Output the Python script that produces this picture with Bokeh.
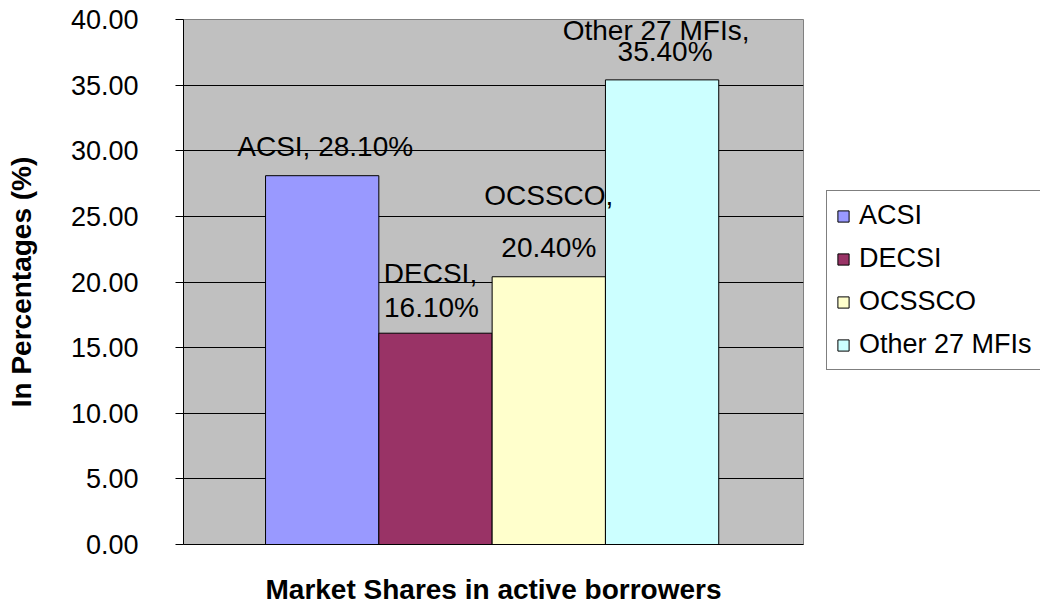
from bokeh.plotting import figure
from bokeh.layouts import row
from bokeh.models import (ColumnDataSource, Legend, LegendItem, NumeralTickFormatter,
                          FixedTicker, Range1d)
from bokeh.core.properties import value
from bokeh.embed import file_html
from bokeh.resources import INLINE

# ---- data ----
companies = ["ACSI", "DECSI", "OCSSCO", "Other 27 MFIs"]
shares = [28.10, 16.10, 20.40, 35.40]
y_ticks = [0, 5, 10, 15, 20, 25, 30, 35, 40]
x_title = "Market Shares in active borrowers"
y_title = "In Percentages (%)"

# ---- styles ----
colors = ["#9999FF", "#993366", "#FFFFCC", "#CCFFFF"]
# data labels: which labels break after the comma, and pixel offsets above the bar top
wrap = [False, True, True, True]
line1_dy = [0, -60, -81, -49]
line2_dy = [-29, -26, -29, -28]
line1_dx = [0, -5, 0, -6]
line2_dx = [3, -4, 0, 3]

FONT = "Liberation Sans"
FS_TICK = "27px"
FS_LAB = "28px"
FS_TITLE = "28px"
FS_LEG = "27px"

idx = list(range(len(companies)))
line1 = [f"{c}," if w else "" for c, w in zip(companies, wrap)]
line2 = [f"{v:.2f}%" if w else f"{c}, {v:.2f}%" for c, v, w in zip(companies, shares, wrap)]

src = ColumnDataSource(dict(x=idx, share=shares, color=colors, company=companies,
                            l1=line1, l2=line2, dy1=line1_dy, dy2=line2_dy,
                            dx1=line1_dx, dx2=line2_dx))

p = figure(width=820, height=607, output_backend="svg", toolbar_location=None,
           x_range=Range1d(-1.224, 4.248), y_range=Range1d(0, 40),
           min_border_left=183, min_border_right=17, min_border_top=19,
           min_border_bottom=62)

p.border_fill_color = "white"
p.background_fill_color = "#C0C0C0"
p.outline_line_color = "#808080"
p.outline_line_width = 1

bars = p.vbar(x="x", top="share", width=1.0, bottom=0, source=src,
              fill_color="color", line_color="black", line_width=1)

# grid
p.xgrid.visible = False
p.ygrid.grid_line_color = "black"
p.ygrid.grid_line_width = 1
p.ygrid.ticker = FixedTicker(ticks=y_ticks)
p.ygrid.level = "underlay"

# y axis
ya = p.yaxis[0]
ya.ticker = FixedTicker(ticks=y_ticks)
ya.formatter = NumeralTickFormatter(format="0.00")
ya.major_label_text_font = FONT
ya.major_label_text_font_size = FS_TICK
ya.major_label_text_color = "black"
ya.major_tick_out = 8
ya.major_tick_in = 0
ya.minor_tick_out = 0
ya.minor_tick_in = 0
ya.major_label_standoff = 37
ya.axis_line_color = "black"
ya.major_tick_line_color = "black"
ya.axis_label = y_title
ya.axis_label_text_font = FONT
ya.axis_label_text_font_size = FS_TITLE
ya.axis_label_text_font_style = "bold"
ya.axis_label_text_color = "black"
ya.axis_label_standoff = 31

# x axis
xa = p.xaxis[0]
xa.ticker = FixedTicker(ticks=[])
xa.major_tick_out = 0
xa.major_tick_in = 0
xa.minor_tick_out = 0
xa.minor_tick_in = 0
xa.major_label_text_font_size = "0px"
xa.axis_line_color = "black"
xa.axis_label = x_title
xa.axis_label_text_font = FONT
xa.axis_label_text_font_size = FS_TITLE
xa.axis_label_text_font_style = "bold"
xa.axis_label_text_color = "black"
xa.axis_label_standoff = 29

# data labels
p.text(x="x", y="share", text="l1", source=src, x_offset="dx1", y_offset="dy1",
       text_font=value(FONT), text_font_size=FS_LAB, text_align="center",
       text_baseline="alphabetic", text_color="black")
p.text(x="x", y="share", text="l2", source=src, x_offset="dx2", y_offset="dy2",
       text_font=value(FONT), text_font_size=FS_LAB, text_align="center",
       text_baseline="alphabetic", text_color="black")

# legend lives in a narrow companion figure (its bars fall far outside its ranges)
pl = figure(width=220, height=607, output_backend="svg", toolbar_location=None,
            x_range=Range1d(-110, -100), y_range=Range1d(-140, -100),
            min_border=0, outline_line_color=None)
pl.axis.visible = False
pl.grid.visible = False
lbars = pl.vbar(x="x", top="share", width=1.0, bottom=0, source=src,
                fill_color="color", line_color="black", line_width=1)

items = [LegendItem(label=c, renderers=[lbars], index=i) for i, c in enumerate(companies)]
legend = Legend(items=items, location=(6, 174), orientation="vertical",
                border_line_color="black", border_line_width=1,
                background_fill_color="white", background_fill_alpha=1.0,
                label_text_font=FONT, label_text_font_size=FS_LEG, label_text_color="black",
                glyph_width=14, glyph_height=14, label_standoff=9,
                label_width=172, label_height=30, spacing=12, padding=9, margin=0)
pl.add_layout(legend)

layout = row(p, pl, spacing=0)
open("out.html", "w").write(file_html(layout, INLINE))
